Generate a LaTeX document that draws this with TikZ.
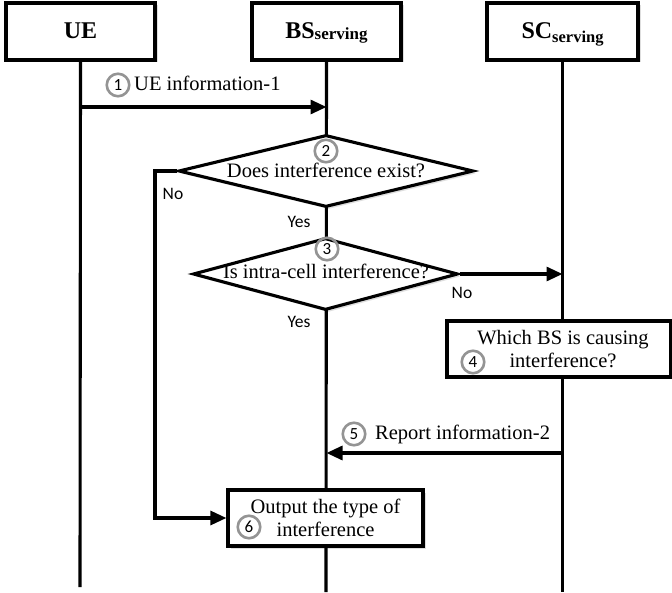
\documentclass[tikz,border=0pt]{standalone}
\usepackage{fontspec}
\setmainfont{Liberation Serif}
\newfontfamily\labelfont{Carlito}
\usetikzlibrary{shapes.geometric,arrows.meta,shadows}

\tikzset{
  shade/.style={drop shadow={shadow xshift=2.5pt,shadow yshift=-2.5pt,fill=black,opacity=0.13}},
  header/.style={draw,line width=3.2pt,fill=white,shade,minimum height=57pt,
    inner sep=0pt,text height=15pt,text depth=0pt,
    font=\fontsize{24}{26}\selectfont\bfseries},
  life/.style={line width=3.1pt},
  arr/.style={line width=3.1pt,-{Triangle[length=16pt,width=14pt]}},
  decision/.style={diamond,draw,line width=3.1pt,fill=white,shade,inner sep=0pt},
  procbox/.style={draw,line width=3.2pt,fill=white,shade,align=center,
    font=\fontsize{20.5}{23}\selectfont},
  txt/.style={inner sep=0pt,font=\fontsize{20.5}{23}\selectfont},
  answer/.style={inner sep=0pt,font=\labelfont\fontsize{17.5}{20}\selectfont},
  stepno/.style={circle,draw=black!42,line width=2.6pt,minimum size=22.5pt,inner sep=0pt,
    font=\labelfont\fontsize{17}{19}\selectfont}
}

\begin{document}
\begin{tikzpicture}[x=1pt,y=-1pt]
\useasboundingbox (0,0) rectangle (672,593);

% participants
\node[header,minimum width=149pt] (ue) at (80.5,31.5) {UE};
\node[header,minimum width=149pt] (bs) at (326.5,31.5)
  {BS{\fontsize{17}{20}\selectfont\raisebox{-1pt}{serving}}};
\node[header,minimum width=151pt] (sc) at (562.5,31.5)
  {SC{\fontsize{16.5}{19}\selectfont\raisebox{-4pt}{serving}}};

% lifelines
\coordinate (ueEnd) at (80,587);
\coordinate (bsEnd) at (326,592);
\coordinate (scEnd) at (562.5,592);
\draw[life] (ue.south) -- (ueEnd);
\draw[life] (bs.south) -- (bsEnd);
\draw[life] (sc.south) -- (scEnd);

% step 1
\coordinate (m1) at (0,107);
\draw[arr] (ue.south |- m1) -- (bs.south |- m1);
\node[stepno] (c1) at (118,85) {1};
\node[txt,anchor=base west] (t1) at (134,91) {UE information-1};

% step 2
\node[decision,minimum width=295pt,minimum height=72pt] (d1) at (326,171) {};
\node[stepno] (c2) at (326,151) {2};
\node[txt,anchor=base] (t2) at (326,178) {Does interference exist?};
\node[answer] (no1) at (173,194) {No};
\node[answer] (yes1) at (299,222) {Yes};

% step 3
\node[decision,minimum width=265pt,minimum height=72pt] (d2) at (325.5,274) {};
\node[stepno] (c3) at (327,249) {3};
\node[txt,anchor=base] (t3) at (326,279) {Is intra-cell interference?};
\node[answer] (no2) at (462,293) {No};
\node[answer] (yes2) at (299,322) {Yes};
\draw[arr] (d2.east) -- (d2.east -| sc.south);

% step 4
\node[procbox,minimum width=224pt,minimum height=56pt] (which) at (559,349)
  {\hspace*{8pt}Which BS is causing\\\hspace*{8pt}interference?};
\node[stepno] (c4) at (473,362) {4};

% step 5
\coordinate (m5) at (0,453);
\draw[arr] (sc.south |- m5) -- (bs.south |- m5);
\node[stepno] (c5) at (354,434) {5};
\node[txt,anchor=base west] (t5) at (375,439) {Report information-2};

% step 6
\node[procbox,minimum width=195pt,minimum height=56pt] (out) at (325.5,518)
  {Output the type of\\interference};
\node[stepno] (c6) at (249,527) {6};

% "No" branch of the first decision
\coordinate (nocorner) at (155,171);
\draw[arr] (d1.west) -- (nocorner) |- (out.west);
\end{tikzpicture}
\end{document}
